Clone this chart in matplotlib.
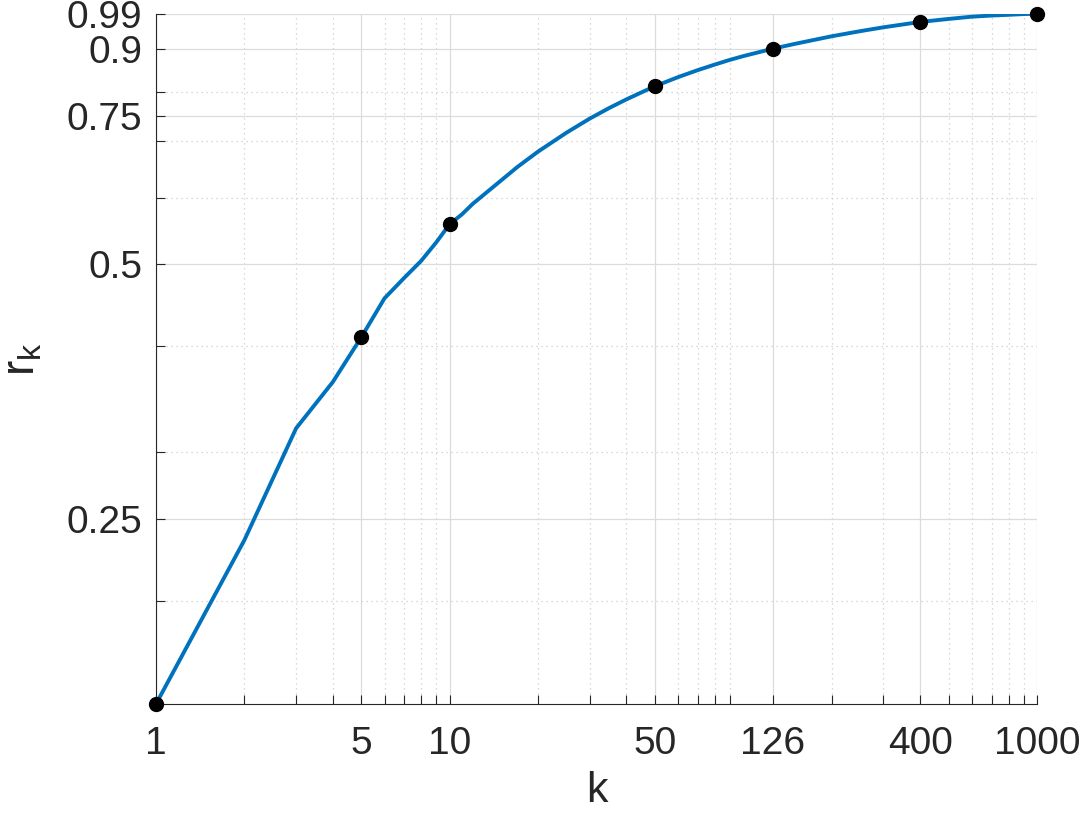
import matplotlib
matplotlib.use('Agg')
import matplotlib.pyplot as plt
from matplotlib.ticker import FixedLocator, NullFormatter, LogLocator

# valores
k = [1, 2, 3, 4, 5, 6, 7, 8, 9, 10, 11, 12, 15, 17, 20, 25, 30, 35, 40, 45,
     50, 60, 70, 80, 90, 100, 126, 150, 200, 250, 300, 400, 500, 600, 700,
     800, 900, 1000]
r_k = [0.151, 0.236, 0.320, 0.363, 0.410, 0.456, 0.482, 0.505, 0.531, 0.558,
       0.573, 0.590, 0.629, 0.652, 0.680, 0.716, 0.744, 0.766, 0.784, 0.799,
       0.8126, 0.833, 0.849, 0.862, 0.873, 0.882, 0.900, 0.912, 0.931, 0.944,
       0.954, 0.968, 0.976, 0.982, 0.985, 0.987, 0.989, 0.990]

k_marcados = [1, 5, 10, 50, 126, 400, 1000]
xticks = [1, 5, 10, 50, 126, 400, 1000]
yticks = [0.25, 0.5, 0.75, 0.9, 0.99]
ytick_labels = ['0.25', '0.5', '0.75', '0.9', '0.99']

plt.rcParams['font.family'] = ['Liberation Sans', 'DejaVu Sans']
cor_texto = '#262626'

fig = plt.figure(figsize=(10.82, 8.13), dpi=100)
ax = fig.add_axes([156 / 1082, 1 - 704 / 813, (1037 - 156) / 1082, (704 - 13.7) / 813])

ax.set_xscale('log')
ax.set_yscale('log')

# curva
ax.plot(k, r_k, color='#0072BD', linewidth=2.8, zorder=3)
r_marcados = [r_k[k.index(v)] for v in k_marcados]
ax.plot(k_marcados, r_marcados, 'o', color='black', markersize=10, zorder=4,
        clip_on=False)

ax.set_xlim(1, 1000)
ax.set_ylim(r_k[0], r_k[-1])

ax.xaxis.set_major_locator(FixedLocator(xticks))
ax.set_xticklabels([str(v) for v in xticks])
ax.xaxis.set_minor_locator(LogLocator(base=10, subs=range(2, 10)))
ax.xaxis.set_minor_formatter(NullFormatter())

ax.yaxis.set_major_locator(FixedLocator(yticks))
ax.set_yticklabels(ytick_labels)
ax.yaxis.set_minor_locator(LogLocator(base=10, subs=range(2, 10)))
ax.yaxis.set_minor_formatter(NullFormatter())

# grade estilo matlab
ax.grid(True, which='major', color='#dcdcdc', linewidth=0.9, linestyle='-')
ax.grid(True, which='minor', color='#cccccc', linewidth=0.9, linestyle=(0, (1, 3)))
ax.set_axisbelow(True)

ax.tick_params(which='both', direction='in', length=6.5, width=0.8,
               colors=cor_texto, labelsize=28)
ax.tick_params(axis='x', which='major', pad=16)
ax.tick_params(axis='y', which='major', pad=10)

for lado in ['top', 'right']:
    ax.spines[lado].set_visible(False)
for lado in ['left', 'bottom']:
    ax.spines[lado].set_color(cor_texto)
    ax.spines[lado].set_linewidth(0.8)

ax.set_xlabel('k', fontsize=31, color=cor_texto, labelpad=6)
ax.set_ylabel(r'r$_\mathregular{k}$', fontsize=33, color=cor_texto, labelpad=16)

fig.savefig('out.png', dpi=100)
